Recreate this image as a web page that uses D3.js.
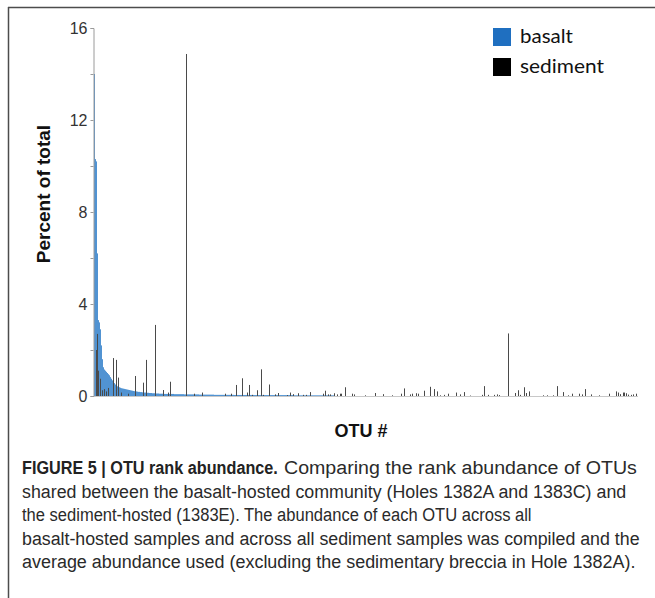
<!DOCTYPE html>
<html><head><meta charset="utf-8">
<script src="https://cdn.jsdelivr.net/npm/d3@7"></script>
<style>html,body{margin:0;padding:0;background:#fff;}svg{display:block;}</style>
</head><body>
<script>
// ---------- DATA ----------
const otuCount = 544;
const yTicks = [0, 2, 4, 6, 8, 10, 12, 14, 16];
const yTickLabels = [0, 4, 8, 12, 16];
const seriesNames = ["basalt", "sediment"];
const seriesColors = ["#1f6fc0", "#000000"];
// basalt: average percent abundance by OTU rank (rank 1 first)
const basalt = [
 14.0, 10.3, 10.2, 6.2, 3.3, 3.2, 2.9, 2.2, 1.6, 1.25,
 1.15, 1.1, 1.05, 1.0, 0.95, 0.9, 0.82, 0.75, 0.68, 0.62,
 0.56, 0.5, 0.46, 0.42, 0.4, 0.38, 0.36, 0.34, 0.33, 0.32,
 0.31, 0.3, 0.29, 0.28, 0.27, 0.26, 0.25, 0.24, 0.23, 0.22,
 0.21, 0.2, 0.2, 0.19, 0.18, 0.18, 0.17, 0.17, 0.16, 0.16,
 0.15, 0.15, 0.14, 0.14, 0.14, 0.13, 0.13, 0.13, 0.12, 0.12,
 0.12, 0.11, 0.11, 0.11, 0.11, 0.1, 0.1, 0.1, 0.1, 0.1,
 0.09, 0.09, 0.09, 0.09, 0.09, 0.09, 0.09, 0.09, 0.09, 0.09,
 0.08, 0.08, 0.08, 0.08, 0.08, 0.08, 0.08, 0.08, 0.08, 0.08,
 0.07, 0.07, 0.07, 0.07, 0.07, 0.07, 0.07, 0.07, 0.07, 0.07,
 0.07, 0.07, 0.07, 0.07, 0.07, 0.06, 0.06, 0.06, 0.06, 0.06,
 0.06, 0.06, 0.06, 0.06, 0.06, 0.06, 0.06, 0.06, 0.06, 0.06,
 0.05, 0.05, 0.05, 0.05, 0.05, 0.05, 0.05, 0.05, 0.05, 0.05,
 0.05, 0.05, 0.05, 0.05, 0.05, 0.05, 0.05, 0.05, 0.05, 0.05,
 0.045, 0.045, 0.045, 0.045, 0.045, 0.045, 0.045, 0.045, 0.045, 0.045,
 0.045, 0.045, 0.045, 0.045, 0.045, 0.045, 0.045, 0.045, 0.045, 0.045,
 0.04, 0.04, 0.04, 0.04, 0.04, 0.04, 0.04, 0.04, 0.04, 0.04,
 0.04, 0.04, 0.04, 0.04, 0.04, 0.04, 0.04, 0.04, 0.04, 0.04,
 0.04, 0.04, 0.04, 0.04, 0.04, 0.04, 0.04, 0.04, 0.04, 0.04,
 0.04, 0.04, 0.04, 0.04, 0.04, 0.04, 0.04, 0.04, 0.04, 0.04,
 0.03, 0.03, 0.03, 0.03, 0.03, 0.03, 0.03, 0.03, 0.03, 0.03,
 0.03, 0.03, 0.03, 0.03, 0.03, 0.03, 0.03, 0.03, 0.03, 0.03,
 0.03, 0.03, 0.03, 0.03, 0.03, 0.03, 0.03, 0.03, 0.03, 0.03,
 0.03, 0.03, 0.03, 0.03, 0.03, 0.03, 0.03, 0.03, 0.03, 0.03
];
// sediment: [OTU rank, percent of total] for OTUs present in sediment
const sediment = [
 [3, 2.0], [4, 2.7], [5, 1.1], [7, 0.75], [9, 0.25], [11, 0.3], [13, 0.2], [15, 0.35],
 [20, 1.65], [23, 1.57], [25, 0.8], [28, 0.15], [35, 0.1], [42, 0.87], [50, 0.58],
 [53, 1.57], [62, 3.09], [70, 0.26], [75, 0.15], [77, 0.62], [93, 14.87], [101, 0.1],
 [109, 0.15], [132, 0.1], [138, 0.1], [143, 0.48], [149, 0.77], [154, 0.15], [156, 0.48],
 [159, 0.05], [164, 0.25], [168, 1.16], [170, 0.05], [176, 0.5], [182, 0.07], [185, 0.13],
 [194, 0.04], [197, 0.15], [200, 0.08], [205, 0.12], [210, 0.05], [213, 0.05], [217, 0.17],
 [230, 0.1], [232, 0.23], [235, 0.07], [237, 0.07], [241, 0.12], [244, 0.07], [247, 0.1],
 [248, 0.1], [252, 0.38], [259, 0.1], [261, 0.07], [272, 0.03], [282, 0.13], [290, 0.08],
 [299, 0.03], [308, 0.1], [311, 0.33], [317, 0.07], [319, 0.1], [323, 0.12], [325, 0.1],
 [331, 0.23], [337, 0.4], [341, 0.3], [344, 0.2], [347, 0.03], [351, 0.05], [355, 0.1],
 [363, 0.15], [367, 0.07], [371, 0.17], [377, 0.02], [389, 0.05], [391, 0.43], [395, 0.05],
 [401, 0.05], [404, 0.07], [406, 0.04], [415, 2.72], [422, 0.13], [425, 0.25], [427, 0.05],
 [431, 0.38], [433, 0.13], [436, 0.2], [450, 0.03], [454, 0.03], [460, 0.03], [464, 0.43],
 [470, 0.17], [475, 0.03], [479, 0.1], [486, 0.1], [489, 0.07], [492, 0.3], [498, 0.07],
 [506, 0.03], [516, 0.1], [523, 0.2], [525, 0.15], [527, 0.08], [530, 0.15], [531, 0.15],
 [533, 0.12], [535, 0.06], [538, 0.05], [540, 0.07], [543, 0.1]
];
const yTitle = "Percent of total";
const xTitle = "OTU #";
const captionTitle = "FIGURE 5 | OTU rank abundance.";
const captionLines = [
 "Comparing the rank abundance of OTUs",
 "shared between the basalt-hosted community (Holes 1382A and 1383C) and",
 "the sediment-hosted (1383E). The abundance of each OTU across all",
 "basalt-hosted samples and across all sediment samples was compiled and the",
 "average abundance used (excluding the sedimentary breccia in Hole 1382A)."
];

// ---------- LAYOUT ----------
const W = 655, H = 598;
const svg = d3.select("body").append("svg").attr("width", W).attr("height", H);

// helper: place text at (x,y) and squeeze horizontally to a target width
function fitText(sel, x0, y0, target) {
  const len = sel.node().getComputedTextLength();
  const s = Math.min(1.15, target / len);
  sel.attr("x", null).attr("y", null)
     .attr("transform", `translate(${x0},${y0}) scale(${s},1)`);
}

// frame
svg.append("line").attr("x1", 8).attr("x2", 655).attr("y1", 7.5).attr("y2", 7.5)
  .attr("stroke", "#4d4d4d").attr("stroke-width", 1.5);
svg.append("line").attr("x1", 8.5).attr("x2", 8.5).attr("y1", 7).attr("y2", 598)
  .attr("stroke", "#4d4d4d").attr("stroke-width", 1.5);

const ranks = d3.range(1, otuCount + 1);
const x = d3.scaleBand().domain(ranks).range([94, 94 + otuCount]).padding(0);
const y = d3.scaleLinear().domain([0, 16]).range([396, 28]);

// basalt bars
svg.append("g").selectAll("rect").data(basalt).join("rect")
  .attr("x", (d, i) => x(i + 1))
  .attr("width", x.bandwidth())
  .attr("y", d => y(d))
  .attr("height", d => y(0) - y(d))
  .attr("fill", "#5193d2");

// baseline
svg.append("line").attr("x1", 93).attr("x2", 94 + otuCount).attr("y1", 396.5).attr("y2", 396.5)
  .attr("stroke", "#c8c8c8").attr("stroke-width", 1);

// sediment bars
svg.append("g").selectAll("rect").data(sediment).join("rect")
  .attr("x", d => x(d[0]))
  .attr("width", x.bandwidth())
  .attr("y", d => y(d[1]))
  .attr("height", d => y(0) - y(d[1]))
  .attr("fill", "#4a4a4a");

// y axis
const yAxis = d3.axisLeft(y).tickValues(yTicks).tickSize(3).tickPadding(3)
  .tickFormat(d => yTickLabels.includes(d) ? d : "");
const gy = svg.append("g").attr("transform", "translate(93.5,0)").call(yAxis);
gy.select(".domain").attr("stroke", "#9a9a9a");
gy.selectAll(".tick line").attr("stroke", "#9a9a9a");
gy.selectAll(".tick text").attr("fill", "#333").attr("font-size", 16)
  .attr("font-family", "'Liberation Sans', Arial, sans-serif");

// axis titles
svg.append("text").attr("transform", "translate(50,194) rotate(-90)")
  .attr("text-anchor", "middle").attr("font-family", "'Liberation Sans', Arial, sans-serif")
  .attr("font-weight", "bold").attr("font-size", 19).attr("fill", "#111").text(yTitle);
svg.append("text").attr("x", 361).attr("y", 437)
  .attr("text-anchor", "middle").attr("font-family", "'Liberation Sans', Arial, sans-serif")
  .attr("font-weight", "bold").attr("font-size", 18).attr("fill", "#111").text(xTitle);

// legend
const legend = svg.append("g");
seriesNames.forEach((name, i) => {
  legend.append("rect").attr("x", 493).attr("y", 28 + i * 30).attr("width", 18).attr("height", 18)
    .attr("fill", seriesColors[i]);
  const t = legend.append("text")
    .attr("font-family", "Lato, 'Open Sans', sans-serif").attr("font-size", 20).attr("fill", "#111")
    .text(name);
  fitText(t, 520, 43 + i * 30, i === 0 ? 53 : 84);
});

// caption
const capFont = "'Liberation Sans Narrow', 'Arial Narrow', 'Liberation Sans', sans-serif";
const capBase = [474, 498, 521, 545, 568];
const capX = [284, 22, 22, 22, 22];
const capLen = [353, 605, 510, 618, 614];
const tt = svg.append("text")
  .attr("font-family", capFont).attr("font-size", 19).attr("font-weight", "bold").attr("fill", "#222")
  .text(captionTitle);
fitText(tt, 22, capBase[0], 256);
captionLines.forEach((line, i) => {
  const t = svg.append("text")
    .attr("font-family", capFont).attr("font-size", 19).attr("fill", "#2a2a2a")
    .text(line);
  fitText(t, capX[i], capBase[i], capLen[i]);
});
</script>
</body></html>
